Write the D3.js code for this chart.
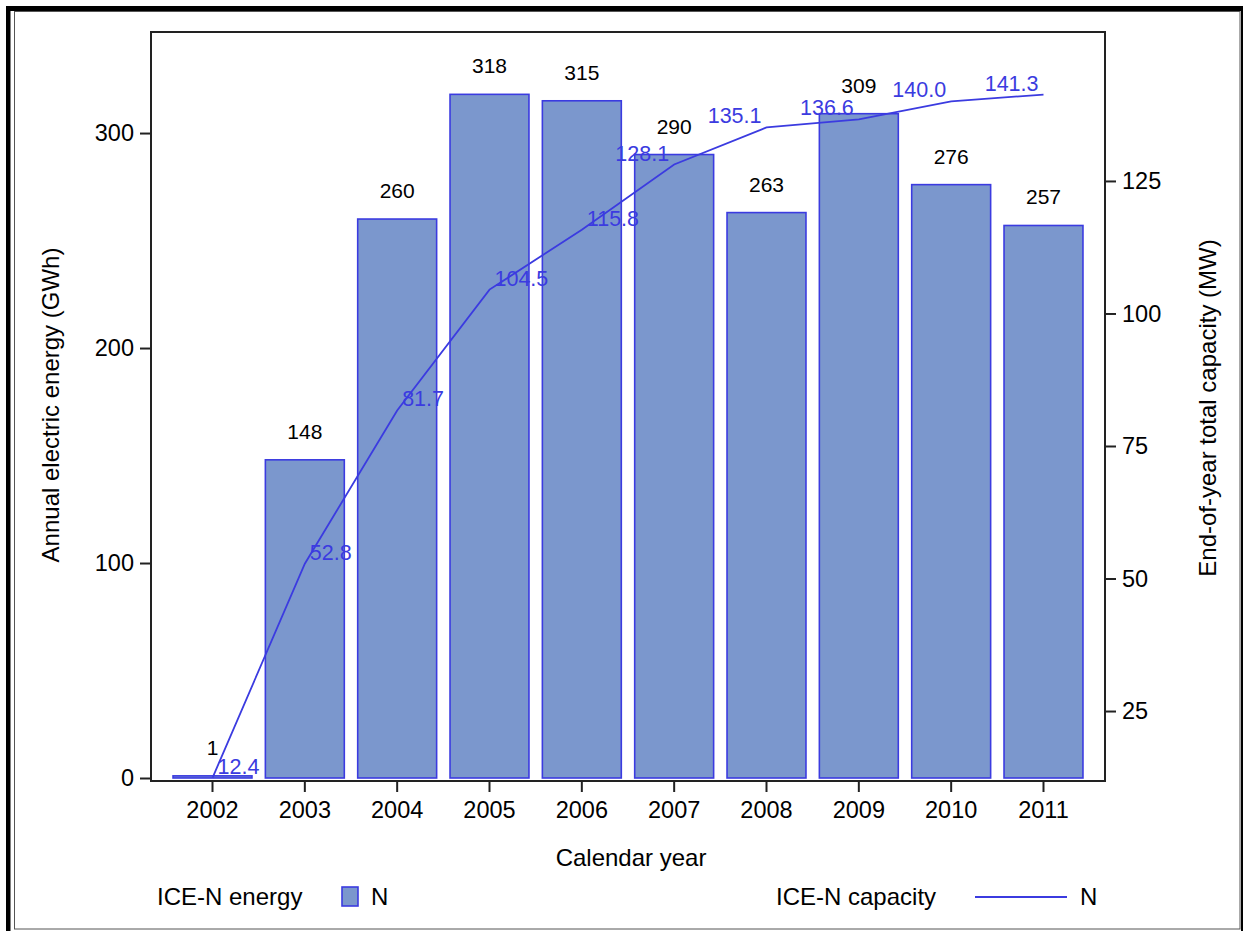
<!DOCTYPE html>
<html><head><meta charset="utf-8">
<script src="https://cdn.jsdelivr.net/npm/d3@7"></script>
<style>body{margin:0;background:#fff}svg{display:block;font-family:"Liberation Sans",Arial,sans-serif}</style>
</head><body>
<svg id="c" width="1243" height="931"></svg>
<script>
const years = ["2002","2003","2004","2005","2006","2007","2008","2009","2010","2011"];
const energy = [1,148,260,318,315,290,263,309,276,257];
const capacity = [12.4,52.8,81.7,104.5,115.8,128.1,135.1,136.6,140.0,141.3];
const capLabels = ["12.4","52.8","81.7","104.5","115.8","128.1","135.1","136.6","140.0","141.3"];
const leftTicks = [0,100,200,300];
const rightTicks = [25,50,75,100,125];

const svg = d3.select("#c");
const L=151,R=1105,T=32,B=781;
const barFill="#7b97cd", blue="#3b3be0";

// page frame
svg.append("rect").attr("x",6).attr("y",6).attr("width",1237).attr("height",5).attr("fill","#000");
svg.append("rect").attr("x",6).attr("y",6).attr("width",4.5).attr("height",925).attr("fill","#000");
svg.append("rect").attr("x",1241).attr("y",6).attr("width",2).attr("height",925).attr("fill","#000");
svg.append("rect").attr("x",14.5).attr("y",11.5).attr("width",1225.5).attr("height",917.5).attr("fill","none").attr("stroke","#555").attr("stroke-width",1);

const x = d3.scaleBand().domain(years).range([L,R]).paddingInner(0.145).paddingOuter(0.2386);
const yL = d3.scaleLinear().domain([0,347]).range([778,T]);
const yR = d3.scaleLinear().domain([11.8,153.1]).range([B,T]);

const g = svg.append("g");
// bars
g.selectAll("rect.bar").data(energy).join("rect").attr("class","bar")
  .attr("x",(d,i)=>x(years[i])).attr("width",x.bandwidth())
  .attr("y",d=>yL(d)).attr("height",d=>yL(0)-yL(d))
  .attr("fill",barFill).attr("stroke",blue).attr("stroke-width",1.6);
// bar labels
g.selectAll("text.bl").data(energy).join("text").attr("class","bl")
  .attr("x",(d,i)=>x(years[i])+x.bandwidth()/2).attr("y",d=>yL(d)-21)
  .attr("text-anchor","middle").attr("font-size",21).attr("fill","#000").text(d=>d);
// line
const cx = (i)=>x(years[i])+x.bandwidth()/2;
const line = d3.line().x((d,i)=>cx(i)).y(d=>yR(d));
g.append("path").datum(capacity).attr("d",line).attr("fill","none").attr("stroke",blue).attr("stroke-width",1.8);
g.selectAll("text.ll").data(capacity).join("text").attr("class","ll")
  .attr("x",(d,i)=> i<5 ? cx(i)+5 : cx(i)-5)
  .attr("y",d=>yR(d)-4)
  .attr("text-anchor",(d,i)=> i<5 ? "start":"end")
  .attr("font-size",21.5).attr("fill",blue).text((d,i)=>capLabels[i]);

// plot frame
svg.append("rect").attr("x",L).attr("y",T).attr("width",R-L).attr("height",B-T).attr("fill","none").attr("stroke","#222").attr("stroke-width",2);

// axes
const axL = svg.append("g").attr("transform",`translate(${L},0)`)
  .call(d3.axisLeft(yL).tickValues(leftTicks).tickSize(11).tickPadding(6));
const axR = svg.append("g").attr("transform",`translate(${R},0)`)
  .call(d3.axisRight(yR).tickValues(rightTicks).tickSize(11).tickPadding(6));
const axB = svg.append("g").attr("transform",`translate(0,${B})`)
  .call(d3.axisBottom(x).tickSize(11).tickPadding(9));
[axL,axR,axB].forEach(a=>{
  a.select(".domain").remove();
  a.selectAll(".tick line").attr("stroke","#222").attr("stroke-width",2);
  a.selectAll(".tick text").attr("font-size",23.5).attr("fill","#000").attr("font-family","Liberation Sans, Arial, sans-serif");
});

// titles
svg.append("text").attr("transform","translate(59,405) rotate(-90)").attr("text-anchor","middle").attr("font-size",24).text("Annual electric energy (GWh)");
svg.append("text").attr("transform","translate(1216,408) rotate(-90)").attr("text-anchor","middle").attr("font-size",24).text("End-of-year total capacity (MW)");
svg.append("text").attr("x",631).attr("y",866).attr("text-anchor","middle").attr("font-size",24).text("Calendar year");

// legend
const ly=905;
svg.append("text").attr("x",157).attr("y",ly).attr("font-size",24).text("ICE-N energy");
svg.append("rect").attr("x",342).attr("y",887).attr("width",16).attr("height",19).attr("fill",barFill).attr("stroke",blue).attr("stroke-width",1.6);
svg.append("text").attr("x",371).attr("y",ly).attr("font-size",24).text("N");
svg.append("text").attr("x",776).attr("y",ly).attr("font-size",24).text("ICE-N capacity");
svg.append("line").attr("x1",975).attr("x2",1067).attr("y1",897).attr("y2",897).attr("stroke",blue).attr("stroke-width",1.8);
svg.append("text").attr("x",1080).attr("y",ly).attr("font-size",24).text("N");
</script>
</body></html>
